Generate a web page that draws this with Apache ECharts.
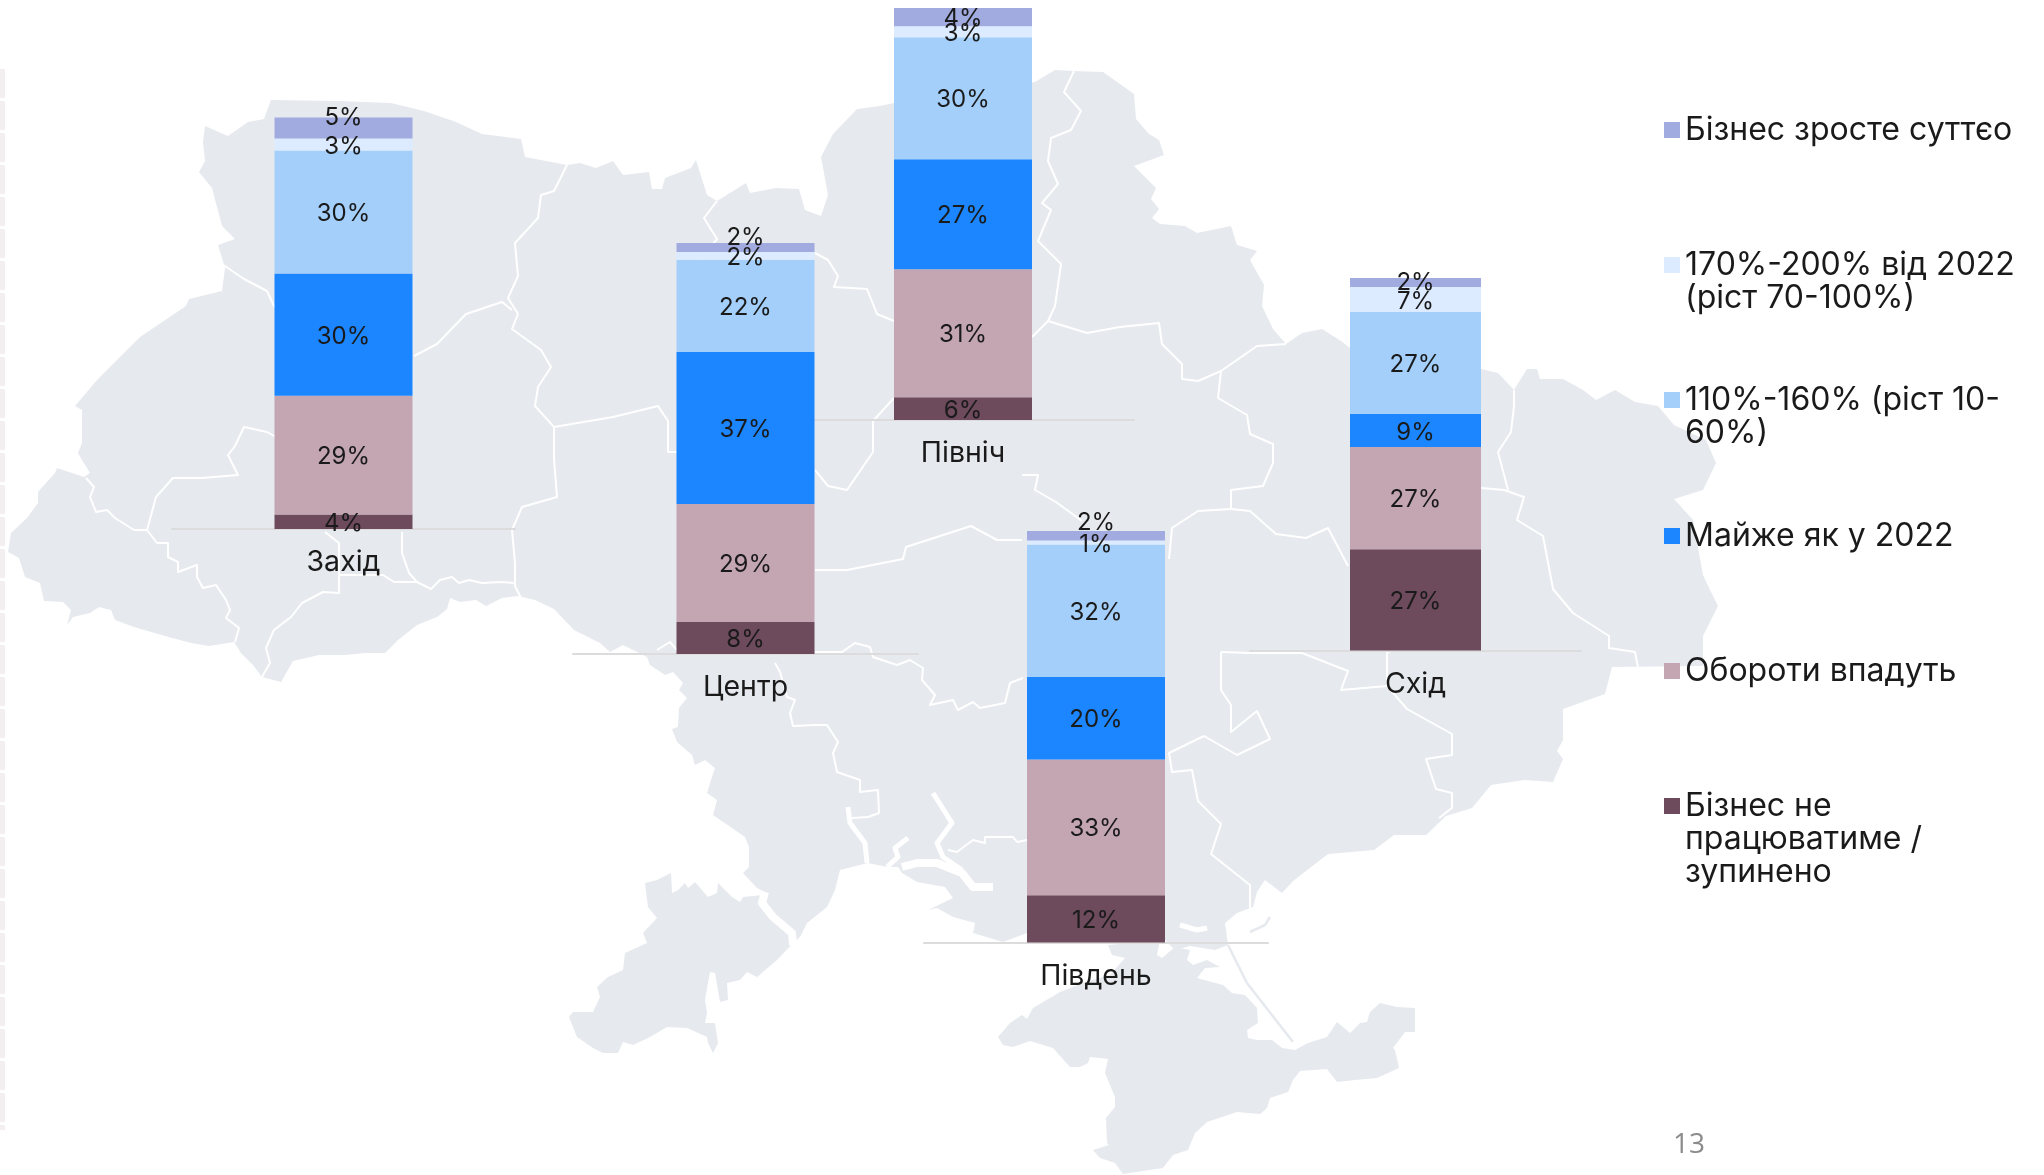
<!DOCTYPE html>
<html>
<head>
<meta charset="utf-8">
<style>
html,body{margin:0;padding:0;background:#fff;}
#chart{width:2044px;height:1175px;}
</style>
<script src="https://cdn.jsdelivr.net/npm/echarts@6/dist/echarts.min.js"></script>
</head>
<body>
<div id="chart"></div>
<script>
// regions, same order in every array below
var regions = ['Захід', 'Центр', 'Північ', 'Південь', 'Схід'];

// shares in % (labels show them rounded)
var stopped = [3.5, 7.8, 5.5, 11.5, 27.2];
var falling = [28.9, 28.7, 31.1, 33.0, 27.4];
var nearSame = [29.7, 37.0, 26.7, 20.0, 8.9];
var grow110 = [29.9, 22.4, 29.6, 32.2, 27.4];
var grow170 = [2.9, 1.9, 2.7, 1.0, 6.7];
var growBig = [5.1, 2.2, 4.4, 2.3, 2.4];

var seriesNames = [
	'Бізнес не працюватиме / зупинено',
	'Обороти впадуть',
	'Майже як у 2022',
	'110%-160% (ріст 10-60%)',
	'170%-200% від 2022 (ріст 70-100%)',
	'Бізнес зросте суттєо'
];
var seriesValues = [stopped, falling, nearSame, grow110, grow170, growBig];
var seriesColors = ['#6D4A5C', '#C4A6B3', '#1B86FF', '#A3CFFA', '#DCEBFF', '#A2ABDF'];

// legend runs top to bottom, text wrapped as on the slide
var legendLines = [
	['Бізнес зросте суттєо'],
	['170%-200% від 2022', '(ріст 70-100%)'],
	['110%-160% (ріст 10-', '60%)'],
	['Майже як у 2022'],
	['Обороти впадуть'],
	['Бізнес не', 'працюватиме /', 'зупинено']
];
var legendCenters = [130, 265, 400, 536, 671, 806];

// layout of the five small charts
var grids = [
	{left: 172, width: 343, top: 117.5, height: 411.5, bar: 138},
	{left: 573, width: 345, top: 243, height: 411, bar: 138},
	{left: 792, width: 342, top: 8, height: 412, bar: 138},
	{left: 924, width: 344, top: 531, height: 411.5, bar: 138},
	{left: 1250, width: 331, top: 278, height: 372.5, bar: 131}
];
var topLabelShift = [-10, -10, 2, -13, 0];

// background map, traced outline in page pixels
var mainland = [
	[205,126],[228,136],[248,122],[264,119],[271,100],[339,101],[391,103],[424,111],[456,122],[482,134],[521,139],[525,157],[567,165],[580,163],[596,168],[613,161],[623,175],[649,172],[652,189],[662,189],[665,178],[691,168],[696,160],[707,195],[717,201],[746,183],[750,193],[776,188],[799,189],[805,210],[821,216],[828,195],[821,157],[833,134],[857,109],[880,106],[894,103],
	[1035,82],[1055,70],[1074,71],[1103,72],[1120,84],[1134,94],[1136,119],[1149,134],[1159,140],[1164,155],[1134,166],[1156,188],[1151,199],[1159,209],[1152,218],[1160,224],[1185,226],[1197,233],[1231,226],[1237,245],[1257,251],[1250,260],[1264,285],[1262,306],[1273,329],[1286,344],[1302,333],[1322,329],[1341,341],[1350,348],
	[1481,369],[1498,373],[1514,390],[1527,369],[1537,369],[1540,379],[1563,379],[1583,390],[1596,400],[1615,390],[1635,402],[1658,406],[1674,425],[1706,440],[1716,463],[1703,490],[1674,499],[1693,520],[1703,575],[1710,590],[1718,606],[1703,636],[1703,666],[1612,667],[1605,694],[1563,709],[1563,740],[1557,751],[1563,759],[1553,782],[1524,780],[1491,785],[1472,808],[1446,816],[1426,835],[1394,835],[1374,850],[1328,854],[1293,881],[1282,893],[1265,880],[1257,892],[1253,907],[1237,913],[1225,923],[1228,945],[1215,950],[1190,946],[1175,950],[1165,940],
	[1027,933],[1003,942],[973,933],[975,923],[953,917],[937,908],[928,910],[953,898],[945,887],[917,882],[902,873],[898,867],[887,867],[868,863],[840,870],[835,890],[827,907],[807,923],[800,937],[793,943],[777,960],[757,977],[747,972],[740,980],[727,983],[728,1000],[720,1002],[715,973],[710,972],[705,1000],[707,1013],[705,1023],[715,1023],[718,1043],[713,1053],[708,1043],[707,1037],[687,1028],[667,1027],[650,1037],[633,1045],[623,1042],[618,1053],[603,1053],[593,1048],[577,1037],[569,1017],[573,1012],[593,1012],[600,997],[597,987],[608,977],[623,970],[625,953],[647,943],[643,933],[657,918],[648,907],[645,883],[657,880],[671,873],[672,893],[678,890],[685,883],[688,888],[695,882],[708,897],[717,893],[718,883],[732,897],[740,902],[743,897],[763,895],[765,892],[757,888],[743,873],[749,867],[749,847],[745,837],[732,828],[713,815],[717,800],[707,793],[712,777],[715,768],[705,760],[695,765],[692,755],[677,742],[672,729],[678,727],[679,708],[687,698],[679,690],[683,683],[673,672],[665,675],[650,665],[647,657],[623,645],[610,652],[600,643],
	[574,630],[554,609],[535,600],[518,596],[502,598],[486,606],[476,600],[460,602],[450,598],[447,609],[437,617],[417,625],[398,640],[385,653],[365,653],[345,655],[319,655],[293,661],[281,682],[262,677],[253,665],[241,653],[234,642],[209,646],[191,643],[165,636],[134,627],[115,620],[111,610],[99,607],[90,613],[73,617],[67,625],[71,610],[63,602],[44,601],[40,583],[25,577],[19,558],[8,552],[11,533],[27,518],[38,503],[38,492],[55,473],[57,468],[84,477],[90,473],[82,460],[78,453],[82,443],[82,410],[75,406],[98,379],[140,337],[186,306],[189,299],[222,291],[225,268],[218,245],[235,239],[222,226],[212,188],[199,172],[205,161],[203,142]
];
var crimea = [
	[998,1037],[1003,1045],[1013,1047],[1030,1041],[1053,1048],[1070,1067],[1080,1067],[1088,1063],[1090,1057],[1108,1059],[1105,1073],[1115,1097],[1115,1107],[1106,1118],[1107,1143],[1109,1145],[1093,1150],[1100,1158],[1115,1163],[1123,1174],[1163,1168],[1173,1155],[1188,1150],[1195,1133],[1207,1122],[1237,1112],[1260,1114],[1267,1108],[1270,1098],[1288,1092],[1293,1080],[1300,1071],[1327,1069],[1337,1082],[1355,1080],[1377,1078],[1399,1068],[1395,1050],[1393,1048],[1405,1032],[1415,1032],[1415,1008],[1397,1007],[1380,1003],[1370,1012],[1367,1022],[1360,1023],[1350,1033],[1337,1022],[1327,1037],[1308,1043],[1295,1050],[1282,1048],[1272,1040],[1257,1040],[1248,1038],[1247,1030],[1258,1023],[1257,1008],[1245,995],[1232,993],[1223,985],[1197,978],[1205,968],[1220,967],[1207,960],[1193,965],[1187,960],[1190,950],[1175,947],[1162,958],[1157,955],[1160,940],[1108,945],[1112,955],[1125,958],[1110,975],[1085,982],[1060,992],[1033,1008],[1027,1019],[1022,1015],[1010,1023]
];
var regionLines = [
	[[567,165],[554,191],[541,195],[538,218],[515,243],[518,276],[508,298],[518,314],[512,329],[541,350],[551,367],[538,387],[535,406],[554,427],[554,459],[557,497],[522,507],[512,530],[515,563],[515,586],[521,598]],
	[[222,264],[244,279],[267,291],[274,306],[300,320]],
	[[414,356],[437,344],[466,314],[502,302],[512,310]],
	[[290,445],[267,432],[244,427],[235,446],[228,455],[238,475],[202,478],[173,478],[156,497],[147,530],[134,530],[115,518],[107,510],[96,512],[90,497],[94,487],[86,478]],
	[[147,530],[157,543],[168,543],[168,557],[178,562],[178,572],[197,565],[197,577],[203,588],[216,585],[226,600],[230,610],[226,618],[239,628],[235,642]],
	[[325,532],[339,543],[339,593],[323,592],[302,603],[291,617],[274,630],[266,648],[270,663],[262,677]],
	[[339,575],[383,575],[394,582],[417,582],[431,589],[440,580],[452,577],[459,583],[469,580],[482,583],[501,582],[515,583]],
	[[402,532],[402,553],[409,573],[417,582]],
	[[554,427],[613,417],[658,406],[668,421],[668,452],[677,452]],
	[[717,201],[704,218],[717,239],[700,260]],
	[[815,253],[828,260],[838,276],[834,287],[867,289],[877,314],[894,321]],
	[[894,398],[873,421],[873,452],[847,490],[828,486],[815,470]],
	[[815,570],[847,570],[903,559],[906,547],[971,526],[997,540],[1022,540]],
	[[1074,71],[1064,92],[1081,111],[1071,130],[1051,138],[1048,161],[1058,184],[1042,203],[1051,210],[1038,241],[1061,264],[1055,306],[1048,321],[1032,337]],
	[[1048,321],[1087,333],[1120,327],[1159,323],[1162,344],[1182,364],[1182,379],[1198,381],[1221,371],[1257,346],[1286,344]],
	[[1221,371],[1218,398],[1247,415],[1250,434],[1273,444],[1273,463],[1263,486],[1231,490],[1231,509],[1198,511],[1172,528],[1169,559]],
	[[1231,509],[1250,511],[1276,534],[1306,538],[1328,528],[1348,566]],
	[[1481,488],[1504,490],[1524,497],[1517,520],[1543,536],[1553,589],[1573,613],[1609,636],[1609,648],[1635,652],[1638,667]],
	[[1514,390],[1514,406],[1511,432],[1498,452],[1508,490]],
	[[1221,652],[1250,653],[1302,653],[1348,671],[1341,690],[1387,686],[1387,653],[1410,640]],
	[[1387,686],[1407,709],[1452,734],[1452,755],[1426,759],[1436,789],[1452,793],[1452,808],[1439,818]],
	[[1221,652],[1221,690],[1231,705],[1231,732],[1257,711],[1270,739],[1237,755],[1204,736],[1169,753],[1172,772],[1192,770],[1198,801],[1221,824],[1211,854],[1250,885],[1250,908]],
	[[775,663],[780,672],[787,697],[795,700],[790,713],[793,726],[815,725],[827,725],[838,742],[833,753],[837,772],[860,780],[860,792],[878,790],[879,813],[868,817],[852,818]],
	[[815,652],[842,652],[855,643],[870,647],[873,657],[897,665],[910,660],[923,668],[922,680],[935,695],[930,705],[953,700],[958,710],[973,702],[980,708],[1005,703],[1010,683],[1023,678]],
	[[948,850],[957,852],[973,840],[985,843],[985,837],[1013,837],[1017,842],[1027,840]],
	[[657,650],[670,642],[677,650]],
	[[1022,475],[1038,475],[1035,490],[1056,502],[1082,521]]
];
var riverLines = [
	[[848,807],[850,823],[865,843],[867,863]],
	[[908,838],[895,848],[898,857],[887,867]],
	[[933,793],[952,823],[937,843],[943,857],[962,870]],
	[[1180,925],[1197,930],[1207,928]]
];
var estuaryLines = [
	[[902,867],[917,863],[937,863],[962,873],[973,887],[993,887]],
	[[765,892],[762,903],[773,917],[792,933],[793,945]]
];
var spitLines = [
	[[1228,945],[1247,983],[1293,1042]],
	[[1250,932],[1265,925],[1270,917]]
];

var appFont = 'Inter';

var gridOpt = [], xAxisOpt = [], yAxisOpt = [], seriesOpt = [];
for (var i = 0; i < regions.length; i++) {
	gridOpt.push({
		left: grids[i].left, width: grids[i].width,
		top: grids[i].top, height: grids[i].height
	});
	xAxisOpt.push({
		gridIndex: i,
		type: 'category',
		data: [regions[i]],
		axisTick: {show: false},
		axisLine: {lineStyle: {color: '#DCDCDC', width: 2}},
		axisLabel: {margin: 19, fontFamily: appFont, fontSize: 28.5, color: '#1a1a1a'}
	});
	yAxisOpt.push({gridIndex: i, type: 'value', min: 0, max: 100, show: false});
	for (var j = 0; j < seriesNames.length; j++) {
		var isTop = j == seriesNames.length - 1;
		seriesOpt.push({
			name: seriesNames[j],
			type: 'bar',
			stack: regions[i],
			xAxisIndex: i,
			yAxisIndex: i,
			barWidth: grids[i].bar,
			itemStyle: {color: seriesColors[j]},
			label: {
				show: true,
				position: 'inside',
				offset: [0, isTop ? topLabelShift[i] : 2],
				fontFamily: appFont,
				fontSize: 24,
				color: '#1a1a1a',
				formatter: function(p) { return Math.round(p.value) + '%'; }
			},
			data: [seriesValues[j][i]]
		});
	}
}

// one legend per entry so the markers keep an even step, blank lines keep marker on first line
var legendOpt = [];
var lineH = 33;
legendLines.forEach(function(lines, k) {
	var name = seriesNames[seriesNames.length - 1 - k];
	var pad = lines.length - 1;
	var text = new Array(pad + 1).join('\n') + lines.join('\n');
	var h = (lines.length + pad) * lineH;
	legendOpt.push({
		left: 1664,
		top: legendCenters[k] - h / 2,
		padding: 0,
		orient: 'vertical',
		icon: 'rect',
		itemWidth: 16,
		itemHeight: 16,
		selectedMode: false,
		data: [name],
		formatter: function() { return text; },
		textStyle: {fontFamily: appFont, fontSize: 32, lineHeight: lineH, color: '#1a1a1a'}
	});
});

var mapStyle = {fill: '#E6E9EE'};
var mapGraphics = [
	{type: 'line', silent: true, z: -2, shape: {x1: 2.5, y1: 69, x2: 2.5, y2: 1130}, style: {stroke: '#F3EEF0', lineWidth: 5, lineDash: [29, 3]}},
	{type: 'polygon', silent: true, z: -2, shape: {points: mainland}, style: mapStyle},
	{type: 'polygon', silent: true, z: -2, shape: {points: crimea}, style: mapStyle}
];
spitLines.forEach(function(pts) {
	mapGraphics.push({type: 'polyline', silent: true, z: -1, shape: {points: pts}, style: {stroke: '#E6E9EE', lineWidth: 2.5, fill: null}});
});
riverLines.forEach(function(pts) {
	mapGraphics.push({type: 'polyline', silent: true, z: -1, shape: {points: pts}, style: {stroke: '#fff', lineWidth: 5, fill: null, lineJoin: 'round'}});
});
estuaryLines.forEach(function(pts) {
	mapGraphics.push({type: 'polyline', silent: true, z: -1, shape: {points: pts}, style: {stroke: '#fff', lineWidth: 8, fill: null, lineJoin: 'round'}});
});
regionLines.forEach(function(pts) {
	mapGraphics.push({type: 'polyline', silent: true, z: -1, shape: {points: pts}, style: {stroke: '#fff', lineWidth: 2, fill: null, lineJoin: 'round'}});
});

var chart = echarts.init(document.getElementById('chart'));
chart.setOption({
	animation: false,
	backgroundColor: '#fff',
	title: {
		text: '13',
		left: 1673,
		top: 1131,
		padding: 0,
		textStyle: {fontFamily: 'Open Sans', fontSize: 28, fontWeight: 'normal', color: '#8C8C8C'}
	},
	graphic: mapGraphics,
	legend: legendOpt,
	grid: gridOpt,
	xAxis: xAxisOpt,
	yAxis: yAxisOpt,
	series: seriesOpt
});
</script>
</body>
</html>
